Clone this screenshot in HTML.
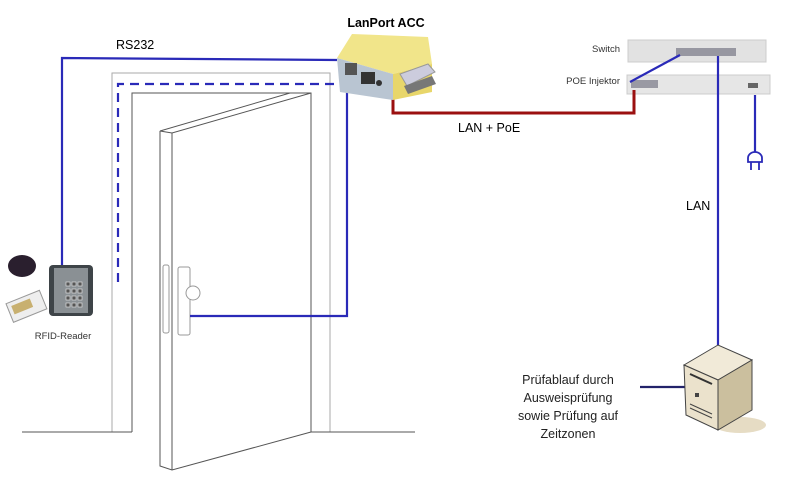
<!DOCTYPE html>
<html><head><style>
html,body{margin:0;padding:0;background:#fff;}
svg{display:block;font-family:"Liberation Sans",sans-serif;}
</style></head><body>
<svg width="796" height="498" viewBox="0 0 796 498" xmlns="http://www.w3.org/2000/svg">
<g fill="none" stroke="#555" stroke-width="1">
<polyline points="112,432 112,73 330,73 330,432" stroke="#aaa"/>
<polyline points="132,432 132,93 311,93 311,432"/>
<line x1="22" y1="432" x2="132" y2="432"/>
<line x1="311" y1="432" x2="415" y2="432"/>
<polygon points="160,131 172,133 311,93 290,93" fill="#fff"/>
<polyline points="160,131 160,466 172,470 311,432"/>
<line x1="172" y1="133" x2="172" y2="470"/>
</g>
<g fill="#fff" stroke="#999" stroke-width="1">
<rect x="163" y="265" width="6" height="68" rx="2"/>
<rect x="178" y="267" width="12" height="68" rx="2"/>
<circle cx="193" cy="293" r="7"/>
</g>
<!-- switch -->
<rect x="628" y="40" width="138" height="22" fill="#e2e2e2" stroke="#ccc"/>
<rect x="676" y="48" width="60" height="8" fill="#667" opacity="0.6"/>
<rect x="627" y="75" width="143" height="19" fill="#e6e6e6" stroke="#ccc"/>
<rect x="631" y="80" width="27" height="8" fill="#667" opacity="0.6"/>
<rect x="748" y="83" width="10" height="5" fill="#666"/>
<text x="620" y="52" font-size="9.5" fill="#333" text-anchor="end">Switch</text>
<text x="620" y="84" font-size="9.5" fill="#333" text-anchor="end">POE Injektor</text>
<g fill="none" stroke="#2a2ab8" stroke-width="2.2">
<polyline points="62,265 62,58 337,60"/>
<polyline points="190,316 347,316 347,84"/>
<polyline points="118,282 118,84 347,84" stroke-dasharray="9,6"/>
<line x1="630" y1="82" x2="680" y2="55"/>
<line x1="718" y1="56" x2="718" y2="345"/>
<line x1="755" y1="95" x2="755" y2="152"/>
<line x1="640" y1="387" x2="686" y2="387" stroke="#22226a"/>
</g>
<path d="M748,158 a7,6 0 0 1 14,0 v4 h-14z M751,162 v8 M759,162 v8" fill="none" stroke="#2a2ab8" stroke-width="1.8"/>
<polyline points="393,98 393,113 634,113 634,90" fill="none" stroke="#9b1010" stroke-width="3"/>
<polygon points="337,58 352,34 428,37 432,64 393,74" fill="#f1e58a"/>
<polygon points="393,74 432,64 432,92 393,100" fill="#e8d66a"/>
<polygon points="337,58 393,74 393,100 340,92" fill="#b9c5d2"/>
<rect x="345" y="63" width="12" height="12" fill="#555"/>
<rect x="361" y="72" width="14" height="12" fill="#333"/>
<circle cx="379" cy="83" r="3" fill="#333"/>
<polygon points="400,74 428,64 435,72 407,86" fill="#ccd" stroke="#999"/>
<polygon points="404,86 432,76 436,84 408,94" fill="#777"/>
<text x="386" y="27" font-size="12.5" font-weight="bold" text-anchor="middle">LanPort ACC</text>
<text x="116" y="49" font-size="12.5">RS232</text>
<text x="458" y="132" font-size="12.5">LAN + PoE</text>
<text x="686" y="210" font-size="12.5">LAN</text>
<ellipse cx="740" cy="425" rx="26" ry="8" fill="#e6dcc4"/>
<polygon points="684,365 718,345 752,360 718,380" fill="#f1ead8" stroke="#444"/>
<polygon points="718,380 752,360 752,410 718,430" fill="#cbbf9e" stroke="#444"/>
<polygon points="684,365 718,380 718,430 686,415" fill="#ebe2cc" stroke="#444"/>
<line x1="690" y1="374" x2="712" y2="384" stroke="#333" stroke-width="2"/>
<rect x="695" y="393" width="4" height="4" fill="#444"/>
<line x1="690" y1="404" x2="712" y2="414" stroke="#444"/>
<line x1="690" y1="408" x2="712" y2="418" stroke="#444"/>
<g font-size="12.5" fill="#222" text-anchor="middle">
<text x="568" y="384">Prüfablauf durch</text>
<text x="568" y="402">Ausweisprüfung</text>
<text x="568" y="420">sowie Prüfung auf</text>
<text x="568" y="438">Zeitzonen</text>
</g>
<ellipse cx="22" cy="266" rx="14" ry="11" fill="#2a1f2e"/>
<g transform="rotate(-22 27 305)"><rect x="8" y="296" width="36" height="20" fill="#eee" stroke="#999"/><rect x="12" y="300" width="20" height="9" fill="#c8b070"/></g>
<rect x="49" y="265" width="44" height="51" rx="4" fill="#3e4448"/>
<rect x="54" y="268" width="34" height="45" fill="#8a9094"/>
<g fill="#555" stroke="#ddd" stroke-width="0.7">
<rect x="66" y="282" width="4" height="4"/><rect x="72" y="282" width="4" height="4"/><rect x="78" y="282" width="4" height="4"/>
<rect x="66" y="289" width="4" height="4"/><rect x="72" y="289" width="4" height="4"/><rect x="78" y="289" width="4" height="4"/>
<rect x="66" y="296" width="4" height="4"/><rect x="72" y="296" width="4" height="4"/><rect x="78" y="296" width="4" height="4"/>
<rect x="66" y="303" width="4" height="4"/><rect x="72" y="303" width="4" height="4"/><rect x="78" y="303" width="4" height="4"/>
</g>
<text x="63" y="339" font-size="9.5" fill="#333" text-anchor="middle">RFID-Reader</text>
</svg>
</body></html>
